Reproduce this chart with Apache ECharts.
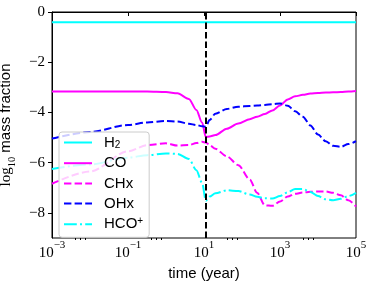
<!DOCTYPE html>
<html><head><meta charset="utf-8">
<script src="https://cdn.jsdelivr.net/npm/echarts@6/dist/echarts.min.js"></script>
<style>html,body{margin:0;padding:0;background:#fff}#c{width:374px;height:286px}</style>
</head><body><div id="c"></div>
<script>
// time in years
const times = [0.001, 0.01, 0.1, 0.32, 1, 2, 4, 6.3, 8.9, 11.2, 14, 20, 40, 80, 160, 250, 400, 630, 1000, 1600, 2500, 4000, 6300, 10000, 16000, 25000, 40000, 63000, 100000];
// log10 mass fractions
const h2   = [-0.41,-0.41,-0.41,-0.41,-0.41,-0.41,-0.41,-0.41,-0.41,-0.41,-0.41,-0.41,-0.41,-0.41,-0.41,-0.41,-0.41,-0.41,-0.41,-0.41,-0.41,-0.41,-0.41,-0.41,-0.41,-0.41,-0.41,-0.41,-0.41];
const co   = [-3.17,-3.17,-3.17,-3.17,-3.19,-3.24,-3.46,-3.9,-4.4,-4.98,-4.96,-4.9,-4.65,-4.44,-4.27,-4.17,-4.06,-3.92,-3.72,-3.48,-3.36,-3.3,-3.25,-3.23,-3.21,-3.2,-3.19,-3.17,-3.15];
const chx  = [-6.84,-6.35,-5.55,-5.3,-5.23,-5.32,-5.3,-5.22,-5.17,-5.2,-5.3,-5.45,-5.75,-6.1,-6.67,-7.2,-7.7,-7.72,-7.55,-7.35,-7.24,-7.19,-7.16,-7.15,-7.15,-7.2,-7.3,-7.5,-7.75];
const ohx  = [-5.04,-4.78,-4.5,-4.4,-4.34,-4.36,-4.45,-4.5,-4.55,-4.57,-4.3,-4.05,-3.86,-3.77,-3.74,-3.72,-3.7,-3.67,-3.64,-3.73,-3.95,-4.17,-4.52,-4.88,-5.15,-5.33,-5.37,-5.26,-5.14];
const hcop = [-6.25,-6.07,-5.8,-5.7,-5.63,-5.65,-5.85,-6.3,-6.8,-7.52,-7.35,-7.22,-7.1,-7.13,-7.27,-7.36,-7.42,-7.43,-7.33,-7.18,-7.05,-7.05,-7.17,-7.33,-7.46,-7.5,-7.44,-7.33,-7.2];
const seriesNames = ['H2', 'CO', 'CHx', 'OHx', 'HCO+'];
const switchTime = 11.2;
const xLabelValues = [1e-3, 1e-1, 1e1, 1e3, 1e5];
const xMinorValues = [0.004, 0.0055, 0.0074, 0.4, 0.55, 0.74, 40, 55, 74, 4000, 5500, 7400];
const yTickValues = [0, -2, -4, -6, -8];

const SERIF = 'Liberation Serif';
const SANS = 'Liberation Sans';
const DASH = [7.4, 3.2];
const DASHDOT = [12.8, 3.2, 2, 3.2];

function pairs(vals) { return times.map((t, i) => [t, vals[i]]); }
function mk(name, vals, color, type) {
  return {
    name, type: 'line', data: pairs(vals), xAxisIndex: 0, yAxisIndex: 0,
    symbol: 'none', smooth: 0.3, smoothMonotone: 'x',
    lineStyle: { color, width: 2, type, cap: 'butt' },
    itemStyle: { color },
    emphasis: { disabled: true }, animation: false
  };
}
const series = [
  mk(seriesNames[0], h2, '#00ffff', 'solid'),
  mk(seriesNames[1], co, '#ff00ff', 'solid'),
  mk(seriesNames[2], chx, '#ff00ff', DASH),
  mk(seriesNames[3], ohx, '#0000ff', DASH),
  mk(seriesNames[4], hcop, '#00ffff', DASHDOT)
];
series[4].markLine = {
  silent: true, symbol: 'none', animation: false, z: 10,
  label: { show: false },
  lineStyle: { color: '#000', width: 2, type: [6.5, 3] },
  data: [{ xAxis: switchTime }]
};

const legendFmt = {
  'H2': '{g|}{a|H}{sub|2}',
  'CO': '{g|}{a|CO}',
  'CHx': '{g|}{a|CHx}',
  'OHx': '{g|}{a|OHx}',
  'HCO+': '{g|}{a|HCO}{sup|+}'
};

const chart = echarts.init(document.getElementById('c'), null, { renderer: 'canvas' });
chart.setOption({
  animation: false,
  backgroundColor: '#fff',
  grid: { left: 52, top: 12, right: 18, bottom: 48, show: true, borderColor: '#000', borderWidth: 1, outerBoundsMode: 'none', containLabel: false },
  xAxis: [{
    type: 'log', logBase: 10, min: 1e-3, max: 1e5, position: 'bottom',
    axisLine: { show: true, lineStyle: { color: '#000', width: 1 } },
    axisTick: { show: true, inside: false, length: 4, customValues: xLabelValues, lineStyle: { color: '#000', width: 1 } },
    splitLine: { show: false }, minorTick: { show: false },
    axisLabel: {
      customValues: xLabelValues, margin: 2, color: '#000',
      formatter: v => '{b|10}{s|' + (Math.round(Math.log10(v)) < 0 ? '\u2212' + (-Math.round(Math.log10(v))) : Math.round(Math.log10(v))) + '}',
      rich: {
        b: { fontFamily: SERIF, fontSize: 15, lineHeight: 21, verticalAlign: 'bottom', color: '#000' },
        s: { fontFamily: SERIF, fontSize: 11, lineHeight: 11, verticalAlign: 'top', color: '#000' }
      }
    },
    name: 'time (year)', nameLocation: 'middle', nameGap: 24,
    nameTextStyle: { fontFamily: SANS, fontSize: 15, color: '#000' }
  }, {
    type: 'log', logBase: 10, min: 1e-3, max: 1e5, position: 'bottom',
    axisLine: { show: false },
    axisTick: { show: true, inside: false, length: 2, customValues: xMinorValues, lineStyle: { color: '#000', width: 1 } },
    axisLabel: { show: false }, splitLine: { show: false }
  }],
  yAxis: {
    type: 'value', min: -9, max: 0,
    axisLine: { show: true, lineStyle: { color: '#000', width: 1 } },
    axisTick: { show: true, inside: false, length: 4, customValues: yTickValues, lineStyle: { color: '#000', width: 1 } },
    splitLine: { show: false },
    axisLabel: {
      customValues: yTickValues, margin: 7, color: '#000', fontFamily: SERIF, fontSize: 15,
      formatter: v => v < 0 ? '\u2212' + (-v) : String(v)
    },
    name: '{m|log}{sub|10}{t| mass fraction}', nameLocation: 'middle', nameRotate: 90, nameGap: 24,
    nameTextStyle: {
      rich: {
        m: { fontFamily: SERIF, fontSize: 15, lineHeight: 20, verticalAlign: 'top', color: '#000' },
        sub: { fontFamily: SERIF, fontSize: 10.5, lineHeight: 10, verticalAlign: 'bottom', color: '#000' },
        t: { fontFamily: SANS, fontSize: 15, lineHeight: 20, verticalAlign: 'top', color: '#000' }
      }
    }
  },
  legend: {
    show: true, orient: 'vertical', left: 59, top: 132,
    data: seriesNames,
    itemWidth: 28, itemHeight: 14, itemGap: 5.2,
    padding: [2.5, 6, 5.5, 4],
    backgroundColor: 'rgba(255,255,255,0.8)', borderColor: '#cccccc', borderWidth: 1, borderRadius: 3,
    selectedMode: false,
    itemStyle: { opacity: 0 },
    formatter: n => legendFmt[n],
    textStyle: {
      color: '#000',
      rich: {
        g: { width: 7 },
        a: { fontFamily: SANS, fontSize: 15, lineHeight: 16, color: '#000' },
        sub: { fontFamily: SANS, fontSize: 10, lineHeight: 16, verticalAlign: 'bottom', padding: [6, 0, 0, 0], color: '#000' },
        sup: { fontFamily: SANS, fontSize: 10, lineHeight: 16, verticalAlign: 'top', color: '#000' }
      }
    }
  },
  series
});
</script></body></html>
